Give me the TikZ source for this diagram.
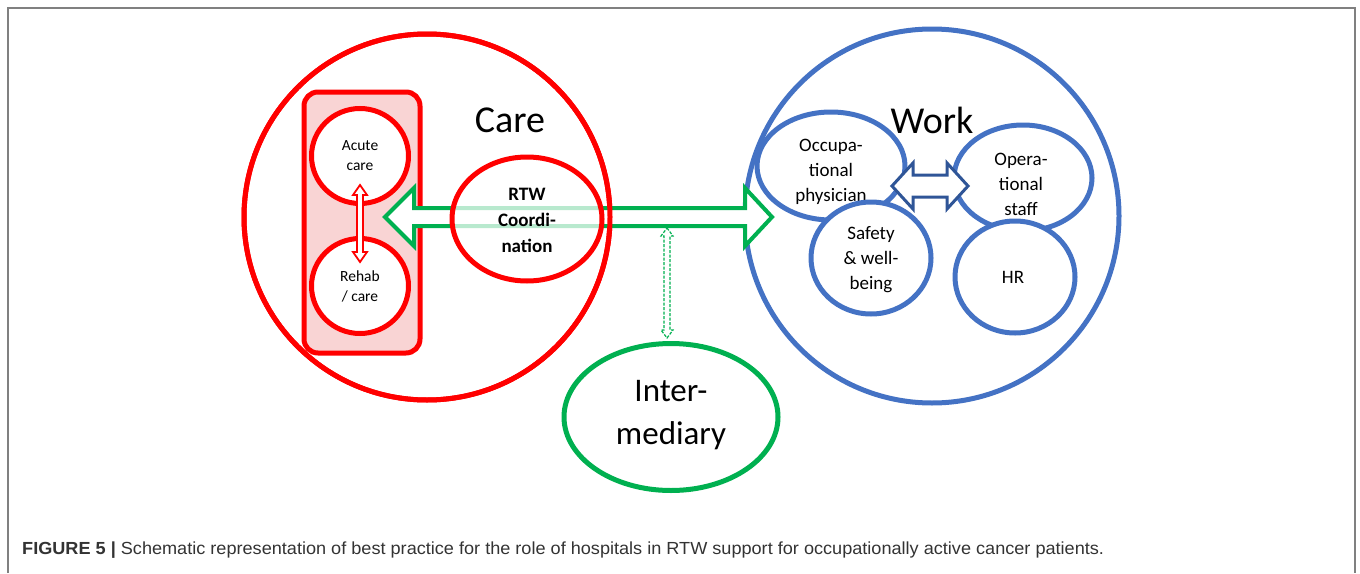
\documentclass[tikz,border=0pt]{standalone}
\usepackage{fontspec}
\setmainfont{Carlito}
\newfontfamily\capfont{Liberation Sans}
\usetikzlibrary{shapes.geometric}
\definecolor{cred}{HTML}{FF0000}
\definecolor{cblue}{HTML}{4472C4}
\definecolor{cgreen}{HTML}{00B050}
\definecolor{cpink}{HTML}{F9D4D4}
\definecolor{cdblue}{HTML}{2F5597}
\definecolor{cframe}{HTML}{808080}
\definecolor{ccap}{HTML}{333333}
\tikzset{
  redring/.style={draw=cred, line width=5pt},
  bluering/.style={draw=cblue, line width=5pt},
  subell/.style={ellipse, inner sep=0pt, fill=white},
  lbl/.style={align=center, inner sep=0pt, text=black},
}
\begin{document}
\begin{tikzpicture}[x=1pt,y=-1pt]
\useasboundingbox (0,0) rectangle (1360,573);
% frame
\draw[cframe, line width=1.6pt] (8,573) -- (8,8) -- (1355,8) -- (1355,573);

% Care big circle
\node[circle, inner sep=0pt, minimum size=366pt, redring] (care) at (427,217) {};
% Work big circle
\node[circle, inner sep=0pt, minimum size=374pt, bluering] (work) at (932,216) {};

% pink box
\node[draw=cred, line width=5pt, fill=cpink, rounded corners=14pt, inner sep=0pt,
      minimum width=116pt, minimum height=261pt] (pinkbox) at (362,222.5) {};
\node[subell, redring, minimum width=97pt, minimum height=95pt] (acute) at (360,156) {};
\node[subell, redring, minimum width=97pt, minimum height=95pt] (rehab) at (360,286) {};
\node[lbl, font=\fontsize{15.5}{20}\selectfont] at (acute) {Acute\\care};
\node[lbl, font=\fontsize{15.5}{20}\selectfont] at (rehab) {Rehab\\/ care};

% small red double arrow acute <-> rehab
\coordinate (ra) at (360,185);
\coordinate (rb) at (360,262);
\draw[cred, line width=1.8pt, fill=white, line join=miter]
  (ra) -- ++(7,10) -- ++(-4,0) -- ++(0,57) -- ++(4,0) -- (rb) -- ++(-7,-10) -- ++(4,0)
  -- ++(0,-57) -- ++(-4,0) -- cycle;

% big green double arrow
\coordinate (ga) at (385,217);
\coordinate (gb) at (772,217);
\draw[cgreen, line width=4pt, fill=white, line join=miter]
  (ga) -- (414,188) -- (414,208) -- (745,208) -- (745,188) -- (gb) -- (745,246)
  -- (745,226) -- (414,226) -- (414,246) -- cycle;

% redraw care circle outline on top of arrow
\draw[cred, line width=5pt] (care.center) circle (183pt);

% RTW coordination
\node[ellipse, inner sep=0pt, draw=cred, line width=5pt, fill=white, fill opacity=0.72,
      minimum width=150pt, minimum height=124pt] (rtw) at (527,219) {};
\node[lbl, font=\bfseries\fontsize{19}{26}\selectfont] at (527,220) {RTW\\Coordi-\\nation};

% Care label
\node[lbl, font=\fontsize{38}{44}\selectfont] (caretxt) at (510,120) {Care};

% Intermediary
\node[ellipse, inner sep=0pt, draw=cgreen, line width=5pt, fill=white,
      minimum width=214pt, minimum height=147pt] (interm) at (671,417) {};
\node[lbl, font=\fontsize{33}{43}\selectfont] at (671,415) {Inter-\\mediary};

% dashed green double arrow
\coordinate (da) at (667,228);
\coordinate (db) at (667,338);
\draw[cgreen, line width=1.2pt, dash pattern=on 3pt off 1.5pt, fill=white]
  (da) -- ++(6,8) -- ++(-3,0) -- ++(0,94) -- ++(3,0) -- (db) -- ++(-6,-8) -- ++(3,0)
  -- ++(0,-94) -- ++(-3,0) -- cycle;

% Work sub-ellipses
\node[subell, bluering, minimum width=148pt, minimum height=108pt] (occ) at (831,166) {};
\node[subell, bluering, minimum width=138pt, minimum height=106pt] (ops) at (1023,178) {};
\node[lbl, font=\fontsize{19}{25}\selectfont] at (831,172) {Occupa-\\tional\\physician};
\node[lbl, font=\fontsize{19}{25}\selectfont] at (1021,184) {Opera-\\tional\\staff};
\node[subell, bluering, minimum width=120pt, minimum height=112pt] (safety) at (871,258) {};
\node[subell, bluering, minimum width=120pt, minimum height=112pt] (hr) at (1015,277) {};
\node[lbl, font=\fontsize{19}{25}\selectfont] at (871,260) {Safety\\\& well-\\being};
\node[lbl, font=\fontsize{19}{25}\selectfont] at (1013,277) {HR};

% dark blue double arrow occ <-> ops
\coordinate (ba) at (892,186);
\coordinate (bb) at (968,186);
\draw[cdblue, line width=3pt, fill=white, line join=miter]
  (ba) -- (913,163) -- (913,175) -- (947,175) -- (947,163) -- (bb) -- (947,209)
  -- (947,197) -- (913,197) -- (913,209) -- cycle;

% Work label
\node[lbl, font=\fontsize{38}{44}\selectfont] (worktxt) at (932,120) {Work};

% caption
\node[anchor=base west, inner sep=0pt, text=ccap, font=\capfont\fontsize{17.5}{20}\selectfont]
  (cap) at (22,554) {\scalebox{1.035}[1]{\textbf{FIGURE 5 |} Schematic representation of best practice for the role of hospitals in RTW support for occupationally active cancer patients.}};
\end{tikzpicture}
\end{document}
